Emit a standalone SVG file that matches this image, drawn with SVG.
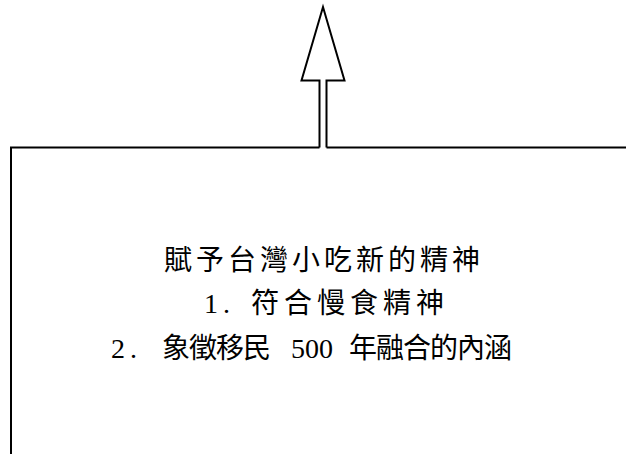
<svg xmlns="http://www.w3.org/2000/svg" width="626" height="454" viewBox="0 0 626 454">
  <style>
    .ln { fill: none; stroke: #000; stroke-width: 2; stroke-linejoin: miter; }
    .t { font-family: "Liberation Serif", "Noto Sans CJK TC", serif; font-size: 28px; fill: #000; }
  </style>
  <rect x="0" y="0" width="626" height="454" fill="#fff"/>
  <g id="connectors">
    <path class="ln" d="M319.5,147.5 V80.5 H301.5 L323,7 L344.5,80.5 H326.5 V147.5"/>
  </g>
  <g id="box">
    <path class="ln" d="M11,454 V147.5 H319.5 M326.5,147.5 H626"/>
    <text class="t" x="164" y="270" letter-spacing="4">賦予台灣小吃新的精神</text>
    <text class="t" y="313"><tspan x="204" letter-spacing="5">1.</tspan><tspan x="251" letter-spacing="5">符合慢食精神</tspan></text>
    <text class="t" y="358"><tspan x="111" letter-spacing="5">2.</tspan><tspan x="162" letter-spacing="-1">象徵移民</tspan><tspan x="291">500</tspan><tspan x="349" letter-spacing="-1">年融合的內涵</tspan></text>
  </g>
</svg>
